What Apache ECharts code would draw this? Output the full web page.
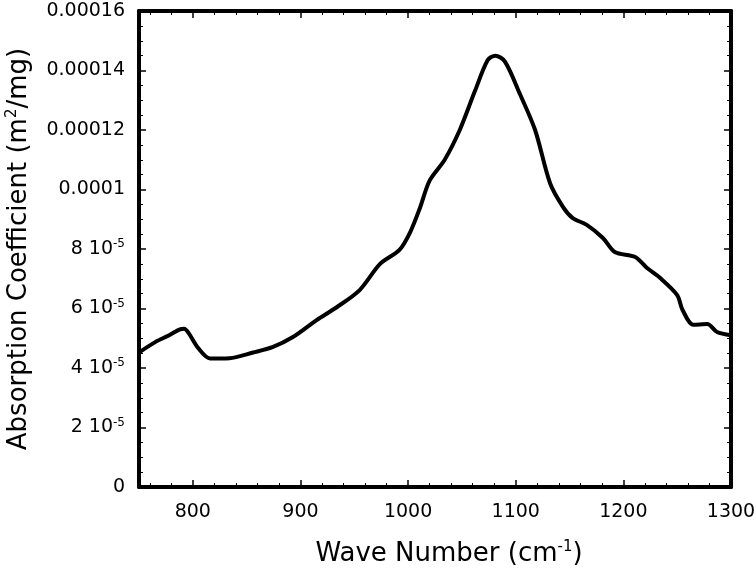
<!DOCTYPE html>
<html>
<head>
<meta charset="utf-8">
<script src="https://cdn.jsdelivr.net/npm/echarts@6/dist/echarts.min.js"></script>
<style>
  html, body { margin: 0; padding: 0; background: #fff; }
  #main { width: 756px; height: 572px; }
</style>
</head>
<body>
<div id="main"></div>
<script>
// wave number (cm-1)
var waveNumbers = [750, 765, 778, 788, 792, 796, 805, 816, 834, 856, 874, 893, 915, 934, 955, 974,
    992, 1002, 1011, 1020, 1034, 1048, 1062, 1074, 1081, 1090, 1104, 1118, 1132, 1144, 1153, 1166,
    1181, 1192, 1211, 1222, 1234, 1250, 1255, 1265, 1278, 1287, 1300];
// absorption coefficient (m2/mg)
var absorption = [4.52e-5, 4.87e-5, 5.1e-5, 5.3e-5, 5.32e-5, 5.18e-5, 4.67e-5, 4.32e-5, 4.33e-5, 4.52e-5, 4.7e-5, 5.04e-5, 5.61e-5, 6.05e-5, 6.62e-5, 7.5e-5,
    7.97e-5, 8.57e-5, 9.38e-5, 10.3e-5, 11.0e-5, 12.0e-5, 13.3e-5, 14.35e-5, 14.5e-5, 14.3e-5, 13.2e-5, 12.0e-5, 10.2e-5, 9.41e-5, 9.04e-5, 8.81e-5,
    8.37e-5, 7.9e-5, 7.73e-5, 7.36e-5, 7.03e-5, 6.45e-5, 5.95e-5, 5.45e-5, 5.48e-5, 5.21e-5, 5.1e-5];
// x axis ticks
var xMajorTicks = [800, 900, 1000, 1100, 1200, 1300];
var xMinorTicks = [760, 780, 820, 840, 860, 880, 920, 940, 960, 980, 1020, 1040, 1060, 1080,
    1120, 1140, 1160, 1180, 1220, 1240, 1260, 1280];
// tick labels of the y axis, one for each step of 2e-5
var yTickLabels = ['0', '{n|2 10}{s|-5}', '{n|4 10}{s|-5}', '{n|6 10}{s|-5}', '{n|8 10}{s|-5}',
    '0.0001', '0.00012', '0.00014', '0.00016'];

var myChart = echarts.init(document.getElementById('main'));

var seriesData = [];
for (var i = 0; i < waveNumbers.length; i++) {
    seriesData.push([waveNumbers[i], absorption[i]]);
}

var fontFam = 'DejaVu Sans, Liberation Sans, sans-serif';
var frameLine = {color: '#000', width: 4};
var majorTickStyle = {color: '#000', width: 1.5};
var minorTickStyle = {color: '#000', width: 1};

// one x axis of the frame: major ticks with line, or minor ticks only
function xFrame(pos, minor, withLabels) {
    var ax = {
        type: 'value', min: 750, max: 1300, position: pos,
        axisLine: {show: !minor, onZero: false, lineStyle: frameLine},
        axisTick: {show: true, inside: true, length: minor ? 4 : 7,
            lineStyle: minor ? minorTickStyle : majorTickStyle,
            customValues: minor ? xMinorTicks : xMajorTicks},
        axisLabel: {show: false},
        splitLine: {show: false}
    };
    if (withLabels) {
        ax.axisLabel = {
            show: true, customValues: xMajorTicks,
            color: '#000', fontSize: 19, fontFamily: fontFam, margin: 16,
            formatter: function (v) { return String(v); }
        };
        ax.name = '{n|Wave Number (cm}{s|-1}{n|)}';
        ax.nameLocation = 'middle';
        ax.nameGap = 53;
        ax.nameTextStyle = {
            padding: [0, 0, 0, 28],
            rich: {
                n: {fontSize: 26, fontFamily: fontFam, color: '#000'},
                s: {fontSize: 15, fontFamily: fontFam, color: '#000', verticalAlign: 'top', padding: [0, 0, 13, 0]}
            }
        };
    }
    return ax;
}

function yFrame(pos, withLabels) {
    var ax = {
        type: 'value', min: 0, max: 0.00016, interval: 0.00002, position: pos,
        axisLine: {show: true, onZero: false, lineStyle: frameLine},
        axisTick: {show: true, inside: true, length: 7, lineStyle: majorTickStyle},
        minorTick: {show: true, splitNumber: 4, length: 4, lineStyle: minorTickStyle},
        axisLabel: {show: false},
        splitLine: {show: false}
    };
    if (withLabels) {
        ax.axisLabel = {
            show: true, color: '#000', fontSize: 19, fontFamily: fontFam, margin: 14,
            formatter: function (v) { return yTickLabels[Math.round(v / 0.00002)]; },
            rich: {
                n: {fontSize: 19, fontFamily: fontFam, color: '#000'},
                s: {fontSize: 12, fontFamily: fontFam, color: '#000', verticalAlign: 'top', padding: [0, 0, 10, 0]}
            }
        };
        ax.name = '{n|Absorption Coefficient (m}{s|2}{n|/mg)}';
        ax.nameLocation = 'middle';
        ax.nameGap = 106;
        ax.nameTextStyle = {
            rich: {
                n: {fontSize: 26, fontFamily: fontFam, color: '#000'},
                s: {fontSize: 15, fontFamily: fontFam, color: '#000', verticalAlign: 'top', padding: [0, 0, 13, 0]}
            }
        };
    }
    return ax;
}

var option = {
    animation: false,
    grid: {left: 139, right: 25, top: 11, bottom: 85, containLabel: false, outerBoundsMode: 'none'},
    xAxis: [
        xFrame('bottom', false, true),
        xFrame('bottom', true, false),
        xFrame('top', false, false),
        xFrame('top', true, false)
    ],
    yAxis: [
        yFrame('left', true),
        yFrame('right', false)
    ],
    series: [
        {
            type: 'line',
            xAxisIndex: 0,
            yAxisIndex: 0,
            data: seriesData,
            smooth: 0.3,
            showSymbol: false,
            lineStyle: {color: '#000', width: 4}
        }
    ]
};

myChart.setOption(option);
</script>
</body>
</html>
